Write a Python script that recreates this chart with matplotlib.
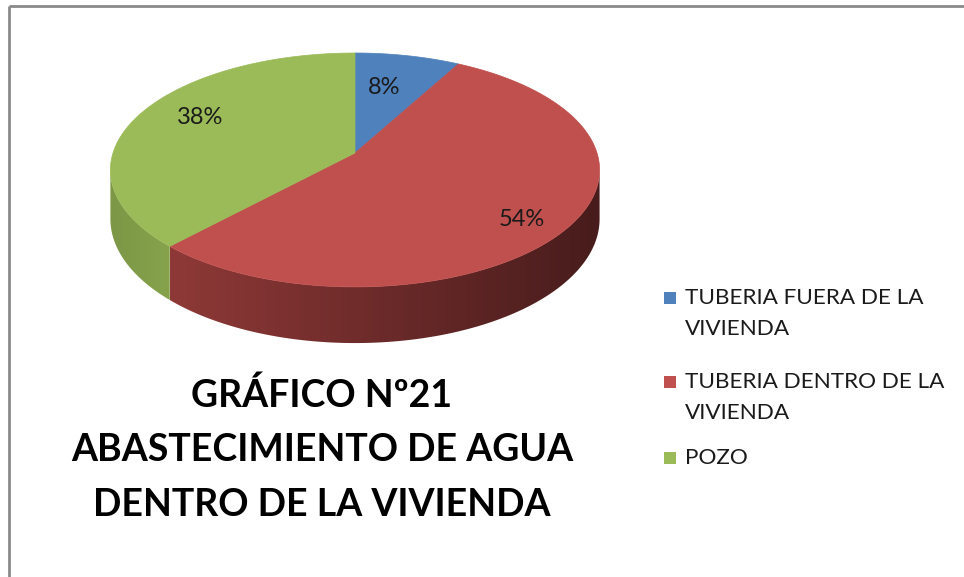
import numpy as np
import matplotlib
matplotlib.use("Agg")
from matplotlib import pyplot as plt
from matplotlib.patches import Polygon, Rectangle
from matplotlib.colors import to_rgb

categories = ["TUBERIA FUERA DE LA\nVIVIENDA", "TUBERIA DENTRO DE LA\nVIVIENDA", "POZO"]
values = [8, 54, 38]
pct_labels = ["8%", "54%", "38%"]
title_lines = ["GRÁFICO Nº21", "ABASTECIMIENTO DE AGUA", "DENTRO DE LA VIVIENDA"]

top_colors = ["#4F81BD", "#C0504D", "#9BBB59"]
side_left = ["#3E6797", "#8E3937", "#7C9746"]
side_right = ["#26405E", "#481C1C", "#86A34C"]

# pie geometry in pixels (y goes down), simple perspective
cx, cy = 355, 153
rx, ry = 242, 114.5
persp = 0.145
depth = 48
label_xy = [(384, 87), (522, 220), (200, 118)]

plt.rcParams['font.family'] = ['Lato', 'DejaVu Sans']

fig = plt.figure(figsize=(9.64, 5.77), dpi=100)
ax = fig.add_axes([0, 0, 1, 1])
ax.set_xlim(0, 964)
ax.set_ylim(577, 0)
ax.axis('off')


def rim(phi, down=0.0):
    # phi: degrees clockwise from 12 o'clock; z > 0 is the back of the pie
    a = np.radians(phi)
    xx, zz = np.sin(a), np.cos(a)
    s = 1.0 / (1.0 + persp * zz)
    return cx + rx * xx * s, cy - ry * zz * s + down * s


fracs = np.array(values) / sum(values)
bounds = np.concatenate([[0], np.cumsum(fracs) * 360])

# visible part of the side wall: between the right and left silhouette points
fine = np.linspace(0, 360, 3601)
xs_all = np.array([rim(p)[0] for p in fine])
phi_r = fine[np.argmax(xs_all)]
phi_l = fine[np.argmin(xs_all)]

for i in range(len(values)):
    a0, a1 = max(bounds[i], phi_r), min(bounds[i + 1], phi_l)
    if a1 <= a0:
        continue
    arc = np.linspace(a0, a1, 200)
    top = [rim(p) for p in arc]
    bot = [rim(p, depth) for p in arc[::-1]]
    poly = Polygon(top + bot, closed=True, facecolor='none', edgecolor='none')
    ax.add_patch(poly)
    xs = [p[0] for p in top]
    x_lo, x_hi = min(xs), max(xs)
    t = np.linspace(0, 1, 256)
    c0, c1 = np.array(to_rgb(side_left[i])), np.array(to_rgb(side_right[i]))
    grad = (c0[None, :] + (c1 - c0)[None, :] * t[:, None])[None, :, :]
    im = ax.imshow(grad, extent=(x_lo, x_hi, 360, 100),
                   aspect='auto', interpolation='bilinear', zorder=1)
    im.set_clip_path(poly)

ax.set_xlim(0, 964)
ax.set_ylim(577, 0)

# top face
for i in range(len(values)):
    arc = np.linspace(bounds[i], bounds[i + 1], 200)
    pts = [(cx, cy)] + [rim(p) for p in arc]
    ax.add_patch(Polygon(pts, closed=True, facecolor=top_colors[i],
                         edgecolor=top_colors[i], lw=0.5, zorder=2))

for (x, y), lab in zip(label_xy, pct_labels):
    ax.text(x, y, lab, ha='center', va='center', fontsize=17, color='#1a1a1a', zorder=3)

for k, line in enumerate(title_lines):
    ax.text(322, 395 + 55 * k, line, ha='center', va='center', fontsize=27,
            fontweight='bold', color='black')

# legend
leg_y = [298, 382, 458]
for y, lab, c in zip(leg_y, categories, top_colors):
    ax.add_patch(Rectangle((664, y - 6), 12, 12, facecolor=c, edgecolor='none'))
    for k, part in enumerate(lab.split("\n")):
        ax.text(685, y + 31 * k, part, ha='left', va='center', fontsize=16.2,
                color='#1a1a1a')

# chart frame
ax.plot([9, 964], [6, 6], color='#8a8a8a', lw=2, solid_capstyle='butt')
ax.plot([9, 9], [6, 577], color='#8a8a8a', lw=2, solid_capstyle='butt')

fig.savefig("out.png", dpi=100)
